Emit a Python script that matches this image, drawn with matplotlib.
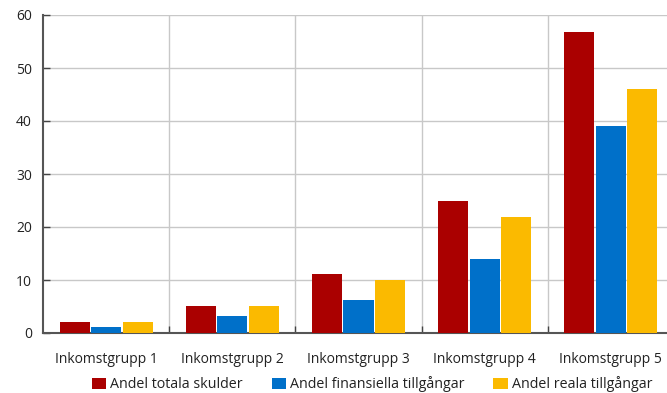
import numpy as np
import matplotlib.pyplot as plt
from matplotlib.ticker import FixedLocator

plt.rcParams['font.family'] = ['Open Sans', 'DejaVu Sans']

groups = ['Inkomstgrupp 1', 'Inkomstgrupp 2', 'Inkomstgrupp 3',
          'Inkomstgrupp 4', 'Inkomstgrupp 5']
series = ['Andel totala skulder', 'Andel finansiella tillgångar',
          'Andel reala tillgångar']
skulder = [2.0, 5.1, 11.1, 24.9, 56.8]
finansiella = [1.1, 3.2, 6.2, 14.0, 39.1]
reala = [2.0, 5.1, 10.0, 21.9, 46.0]
colors = ['#AA0000', '#0070C9', '#FBBA00']

fig = plt.figure(figsize=(6.67, 3.93), dpi=100)
ax = fig.add_axes([43 / 667, 60 / 393, 631 / 667, 318 / 393])

x = np.arange(len(groups))
w = 0.238
for i, (vals, name, c) in enumerate(zip([skulder, finansiella, reala], series, colors)):
    ax.bar(x + (i - 1) * 0.25, vals, width=w, color=c, label=name, zorder=3)

ax.set_xlim(-0.5, 4.5)
ax.set_ylim(0, 60)
ax.set_yticks(np.arange(0, 61, 10))
ax.set_xticks(x)
ax.set_xticklabels(groups)
ax.xaxis.set_minor_locator(FixedLocator(np.arange(0.5, 4.5, 1)))

ax.grid(axis='y', color='#c8c8c8', linewidth=1, zorder=0)
ax.grid(axis='x', which='minor', color='#c8c8c8', linewidth=1, zorder=0)

for s in ['top', 'right']:
    ax.spines[s].set_visible(False)
for s in ['left', 'bottom']:
    ax.spines[s].set_color('#555555')
    ax.spines[s].set_linewidth(1.5)

ax.tick_params(axis='y', direction='in', length=5, width=1, color='#444444',
               labelsize=10, pad=8, labelcolor='#222222')
ax.tick_params(axis='x', which='major', length=0, labelsize=10, pad=14,
               labelcolor='#222222')
ax.tick_params(axis='x', which='minor', direction='in', length=5, width=1,
               color='#444444')

fig.legend(loc='center', bbox_to_anchor=(372 / 667, 1 - 384 / 393), ncol=3,
           frameon=False, fontsize=10.3, handlelength=1.0, handleheight=0.8,
           handletextpad=0.3, columnspacing=2.0, borderaxespad=0,
           labelcolor='#222222')

fig.savefig('out.png', dpi=100)
